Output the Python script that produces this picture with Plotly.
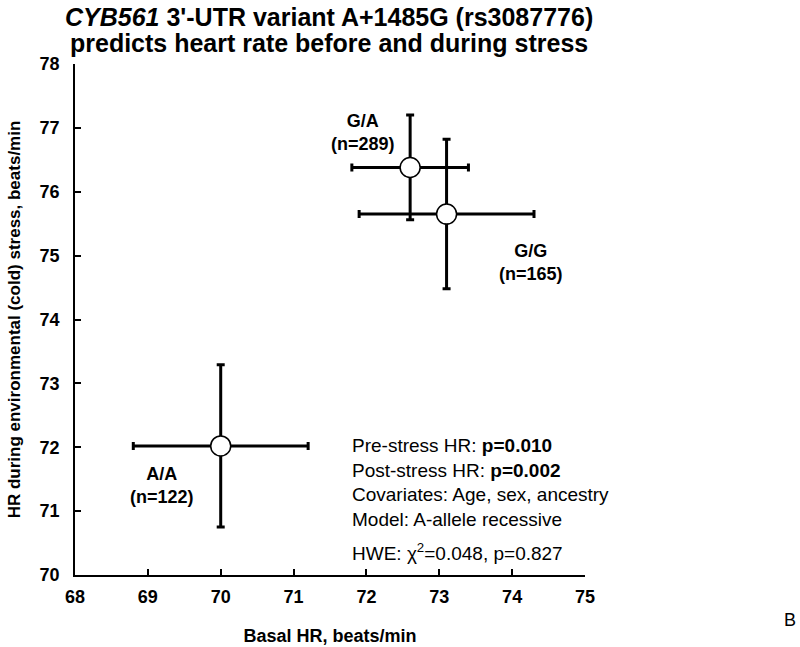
"""CYB561 3'-UTR variant vs heart rate before and during cold stress"""

import plotly.graph_objects as go

# genotype groups
genotypes = ["A/A", "G/A", "G/G"]
n_subjects = [122, 289, 165]

# mean basal HR (x) and HR during cold stress (y), beats/min, with error bars
basal_hr = [70.0, 72.6, 73.1]
basal_err = [1.2, 0.8, 1.2]
stress_hr = [72.02, 76.38, 75.65]
stress_err = [1.27, 0.82, 1.17]

x_ticks = [68, 69, 70, 71, 72, 73, 74, 75]
y_ticks = [70, 71, 72, 73, 74, 75, 76, 77, 78]

title_lines = [
    "<i>CYB561</i> 3'-UTR variant A+1485G (rs3087776)",
    "predicts heart rate before and during stress",
]

FONT = "Liberation Sans, Arial, sans-serif"
W, H = 800, 647
L, R, T, B = 75, 215, 64, 72


def px_to_paper(px, py):
    """page pixel -> paper coords of the plot area"""
    return (px - L) / (W - L - R), (H - B - py) / (H - T - B)


fig = go.Figure()
fig.add_trace(
    go.Scatter(
        x=basal_hr,
        y=stress_hr,
        mode="markers",
        marker=dict(size=20, color="white", line=dict(color="black", width=1.5)),
        error_x=dict(type="data", array=basal_err, color="black", thickness=3, width=4),
        error_y=dict(type="data", array=stress_err, color="black", thickness=3, width=4),
        showlegend=False,
    )
)

# genotype labels, placed next to each point
label_pos = {"A/A": (69.19, 71.4), "G/A": (71.95, 76.93), "G/G": (74.26, 74.9)}
for g, n in zip(genotypes, n_subjects):
    lx, ly = label_pos[g]
    fig.add_annotation(
        x=lx, y=ly, text="<b>%s<br>(n=%d)</b>" % (g, n), showarrow=False,
        font=dict(family=FONT, size=18, color="black"),
    )

stats_text = (
    "Pre-stress HR: <b>p=0.010</b><br>"
    "Post-stress HR: <b>p=0.002</b><br>"
    "Covariates: Age, sex, ancestry<br>"
    "Model: A-allele recessive"
)
fig.add_annotation(
    x=71.78, y=72.22, xanchor="left", yanchor="top", align="left",
    text=stats_text, showarrow=False,
    font=dict(family=FONT, size=19, color="black"),
)
fig.add_annotation(
    x=71.78, y=70.36, xanchor="left", yanchor="middle", align="left",
    text="HWE: χ<sup>2</sup>=0.048, p=0.827", showarrow=False,
    font=dict(family=FONT, size=19, color="black"),
)

# title, one annotation per line to keep the lines close together
for line, ypx in zip(title_lines, [17, 43]):
    tx, ty = px_to_paper(329, ypx)
    fig.add_annotation(
        x=tx, y=ty, xref="paper", yref="paper", xanchor="center", yanchor="middle",
        text="<b>%s</b>" % line, showarrow=False,
        font=dict(family=FONT, size=25, color="black"),
    )

# panel letter
bx, by = px_to_paper(790, 620)
fig.add_annotation(
    x=bx, y=by, xref="paper", yref="paper", xanchor="center", yanchor="middle",
    text="B", showarrow=False, font=dict(family=FONT, size=18, color="black"),
)

axis_common = dict(
    showline=True, linecolor="black", linewidth=1.5,
    ticks="inside", ticklen=6, tickwidth=1.5, tickcolor="black",
    showgrid=False, zeroline=False, automargin=False,
    tickfont=dict(family=FONT, size=18, color="black", weight="bold"),
)

fig.update_layout(
    width=W,
    height=H,
    margin=dict(l=L, r=R, t=T, b=B),
    plot_bgcolor="white",
    paper_bgcolor="white",
    xaxis=dict(
        range=[68, 75], tickvals=x_ticks, ticklabelstandoff=5,
        title=dict(text="<b>Basal HR, beats/min</b>", standoff=23,
                   font=dict(family=FONT, size=18, color="black")),
        **axis_common,
    ),
    yaxis=dict(
        range=[70, 78], tickvals=y_ticks, ticklabelstandoff=10,
        title=dict(text="<b>HR during environmental (cold) stress, beats/min</b>",
                   standoff=15, font=dict(family=FONT, size=17, color="black")),
        **axis_common,
    ),
)

# page body has a default 8px margin; drop it so the figure fills the window
fig.write_html(
    "out.html",
    config={"displayModeBar": False},
    post_script="document.body.style.margin='0';",
)
